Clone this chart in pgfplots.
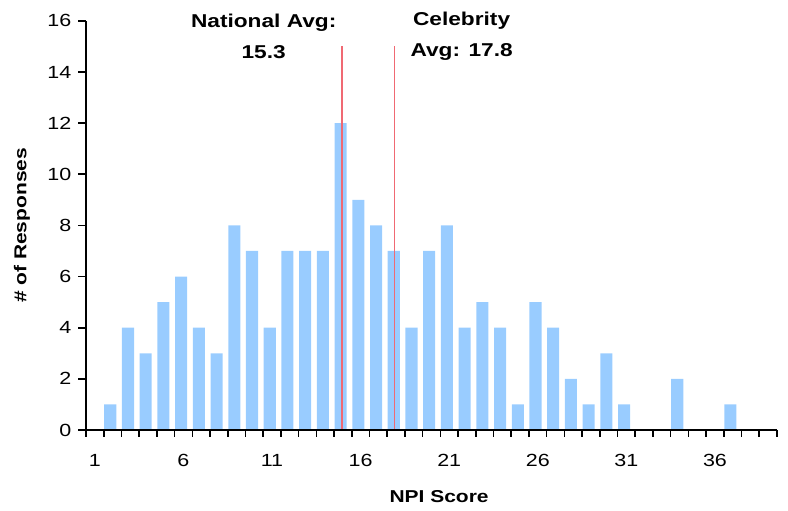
\documentclass[border=0pt]{standalone}
\usepackage{pgfplots}
\pgfplotsset{compat=1.18}
\usepackage{fontspec}
\setmainfont{Liberation Sans}[FakeStretch=1.22]
\definecolor{barblue}{HTML}{99CCFF}
\definecolor{avgred}{RGB}{240,105,115}
\begin{document}
\begin{tikzpicture}
\path[use as bounding box] (-43pt,-40pt) rectangle (351pt,215pt);
\begin{axis}[
  scale only axis, width=345.5pt, height=204.6pt,
  xmin=0.5, xmax=39.5, ymin=0, ymax=16,
  axis lines*=left,
  axis line style={line width=0.85pt, -},
  axis on top,
  clip=false,
  ytick={0,2,...,16},
  xtick={1,6,...,36},
  minor xtick={0.5,1.5,...,39.5},
  tick align=outside,
  major tick length=3.8pt, minor tick length=3.4pt,
  tick style={black, line width=0.8pt},
  major x tick style={draw=none},
  ticklabel style={font=\fontsize{8.8}{10}\selectfont},
  xticklabel style={yshift=-5pt},
  /pgf/number format/assume math mode=true,
  xlabel={NPI Score}, ylabel={\# of Responses},
  label style={font=\bfseries\fontsize{8.6}{10}\selectfont},
  xlabel style={at={(axis description cs:0.511,-0.1637)}, anchor=center},
  ylabel style={at={(axis description cs:-0.0926,0.5)}, anchor=center},
]
\addplot[ybar, bar width=0.68, bar shift=-0.13, fill=barblue, draw=none] coordinates {
 (1,0) (2,1) (3,4) (4,3) (5,5) (6,6) (7,4) (8,3) (9,8) (10,7)
 (11,4) (12,7) (13,7) (14,7) (15,12) (16,9) (17,8) (18,7) (19,4) (20,7)
 (21,8) (22,4) (23,5) (24,4) (25,1) (26,5) (27,4) (28,2) (29,1) (30,3)
 (31,1) (32,0) (33,0) (34,2) (35,0) (36,0) (37,1) (38,0) (39,0)
};
\addplot[avgred, line width=0.6pt] coordinates {(14.95,0) (14.95,15)};
\addplot[avgred, line width=0.6pt] coordinates {(17.9,0) (17.9,15)};
\node[font=\bfseries\fontsize{9.3}{15.5}\selectfont, align=center] at (axis cs:10.53,15.4) {National Avg:\\15.3};
\node[font=\bfseries\fontsize{9.3}{15.5}\selectfont, align=center] at (axis cs:21.7,15.4) {Celebrity\\Avg: 17.8};
\end{axis}
\end{tikzpicture}
\end{document}
